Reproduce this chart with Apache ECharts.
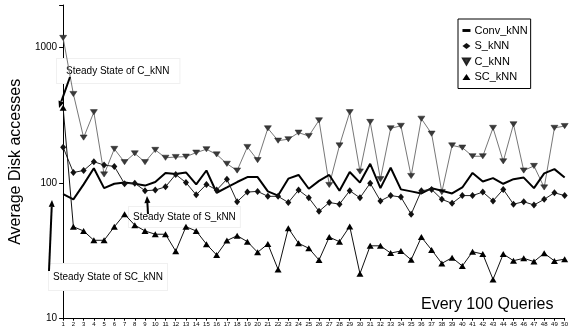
<!DOCTYPE html>
<html>
<head>
<meta charset="utf-8">
<script src="https://cdn.jsdelivr.net/npm/echarts@6/dist/echarts.min.js"></script>
<style>
html,body{margin:0;padding:0;background:#fff;}
#main{width:571px;height:331px;}
</style>
</head>
<body>
<div id="main"></div>
<script>
var categories = ['1','2','3','4','5','6','7','8','9','10','11','12','13','14','15','16','17','18','19','20','21','22','23','24','25','26','27','28','29','30','31','32','33','34','35','36','37','38','39','40','41','42','43','44','45','46','47','48','49','50'];
var convKNN = [83, 76, 98, 129, 92, 99, 101, 99, 96, 102, 119, 117, 120, 98, 124, 85, 93, 102, 111, 111, 87, 81, 108, 115, 91, 104, 115, 88, 121, 101, 139, 92, 130, 90, 87, 84, 92, 88, 84, 93, 119, 103, 109, 99, 107, 110, 92, 118, 127, 110];
var sKNN = [184, 120, 124, 144, 136, 133, 99, 100, 88, 89, 94, 116, 101, 82, 98, 89, 107, 73, 86, 87, 80, 80, 72, 89, 78, 62, 72, 70, 88, 78, 100, 74, 81, 79, 59, 88, 90, 76, 71, 81, 81, 86, 74, 90, 70, 73, 69, 76, 85, 81];
var cKNN = [1180, 455, 217, 334, 116, 179, 143, 166, 143, 176, 154, 156, 157, 168, 178, 163, 139, 124, 185, 148, 254, 206, 211, 236, 223, 291, 97, 190, 334, 122, 283, 107, 254, 265, 113, 299, 232, 86, 190, 183, 158, 158, 256, 145, 272, 124, 134, 93, 256, 264];
var scKNN = [360, 47.7, 44.4, 37.9, 37.9, 47.7, 59, 49, 44.4, 42, 42, 31.5, 47.7, 44.4, 35.5, 29.5, 37.7, 41, 37, 30.9, 35.6, 23.1, 46.5, 36, 33.1, 27.1, 40, 37, 48, 21.5, 34.5, 34.5, 30.5, 31.6, 27.2, 40, 32.2, 25.6, 28.2, 24.5, 31.2, 30, 19.5, 30, 26.8, 27.9, 26.4, 30.4, 26.7, 27.5];
var yTickLabels = ['10', '100', '1000'];
var seriesNames = ['Conv_kNN', 'S_kNN', 'C_kNN', 'SC_kNN'];

var FONT = "'Liberation Sans', Arial, sans-serif";
var DOWN_TRI = 'path://M0,0L10,0L5,8.66Z';
var DASH = 'path://M0,0L10,0L10,3.6L0,3.6Z';

function arrow(x1, y1, x2, y2) {
  var dx = x2 - x1, dy = y2 - y1;
  var len = Math.sqrt(dx * dx + dy * dy);
  var ux = dx / len, uy = dy / len;
  var hl = 7, hw = 3;
  var bx = x2 - ux * hl, by = y2 - uy * hl;
  return [
    { type: 'line', z: 5, shape: { x1: x1, y1: y1, x2: bx, y2: by }, style: { stroke: '#000', lineWidth: 2 } },
    { type: 'polygon', z: 5, shape: { points: [[x2, y2], [bx - uy * hw, by + ux * hw], [bx + uy * hw, by - ux * hw]] }, style: { fill: '#000' } }
  ];
}

function label(x, y, text, pad) {
  return {
    type: 'text', z: 1, x: x, y: y,
    style: {
      text: text, fill: '#000', font: '10px ' + FONT,
      verticalAlign: 'middle', align: 'left',
      backgroundColor: '#fff', borderColor: '#f0f0f0', borderWidth: 1, padding: pad
    }
  };
}

var graphics = [
  label(57, 71, 'Steady State of C_kNN', [7, 10, 7, 9]),
  label(129, 217, 'Steady State of S_kNN', [5, 4, 5, 4]),
  label(49, 277, 'Steady State of SC_kNN', [8, 4, 8, 4]),
  { type: 'text', z: 1, x: 421, y: 305, style: { text: 'Every 100 Queries', fill: '#000', font: '16px ' + FONT, verticalAlign: 'middle', align: 'left' } }
].concat(arrow(70, 77, 59, 108), arrow(148, 214, 147, 196), arrow(49, 271, 52, 200));

var chart = echarts.init(document.getElementById('main'), null, { renderer: 'canvas' });
chart.setOption({
  animation: false,
  backgroundColor: '#fff',
  textStyle: { fontFamily: FONT },
  grid: { left: 43.3, right: 3.4, top: 5, bottom: 12.3, containLabel: false },
  legend: {
    orient: 'vertical', left: 458, top: 19,
    backgroundColor: '#fff', borderColor: '#000', borderWidth: 1,
    padding: [6, 3, 6, 4], itemGap: 4.5, itemWidth: 8, itemHeight: 6,
    textStyle: { fontSize: 11, color: '#000', fontFamily: FONT, padding: [0, 0, 0, -1] },
    data: [
      { name: seriesNames[0], icon: DASH },
      { name: seriesNames[1], icon: 'diamond' },
      { name: seriesNames[2], icon: DOWN_TRI },
      { name: seriesNames[3], icon: 'triangle' }
    ]
  },
  xAxis: {
    type: 'category', data: categories, boundaryGap: false,
    axisLine: { lineStyle: { color: '#000', width: 1 } },
    axisTick: { show: true, length: 2, alignWithLabel: true, interval: 0, lineStyle: { color: '#000' } },
    axisLabel: { interval: 0, fontSize: 6, color: '#000', margin: 3, fontFamily: FONT },
    splitLine: { show: false }
  },
  yAxis: {
    type: 'log', logBase: 10, min: 10, max: 2065,
    name: 'Average Disk accesses', nameLocation: 'middle', nameGap: 16,
    nameTextStyle: { fontSize: 16, color: '#000', fontFamily: FONT },
    axisLine: { show: true, lineStyle: { color: '#000', width: 1 } },
    axisTick: { show: true, length: 4, lineStyle: { color: '#000' } },
    axisLabel: {
      fontSize: 10, color: '#000', margin: 6, fontFamily: FONT,
      formatter: function (v) {
        var s = String(Math.round(v));
        return yTickLabels.indexOf(s) >= 0 ? s : '';
      }
    },
    splitLine: { show: false },
    minorTick: { show: false }
  },
  graphic: graphics,
  series: [
    {
      name: seriesNames[0], type: 'line', data: convKNN, symbol: 'none', symbolKeepAspect: true,
      lineStyle: { color: '#000', width: 2 }, itemStyle: { color: '#000' }, z: 3
    },
    {
      name: seriesNames[1], type: 'line', data: sKNN, symbol: 'diamond', symbolSize: [6, 7], symbolKeepAspect: true,
      lineStyle: { color: '#222', width: 1 }, itemStyle: { color: '#111' }, z: 4
    },
    {
      name: seriesNames[2], type: 'line', data: cKNN, symbol: DOWN_TRI, symbolSize: [7, 6], symbolKeepAspect: true,
      lineStyle: { color: '#777', width: 1 }, itemStyle: { color: '#3a3a3a', borderColor: '#222', borderWidth: 0.5 }, z: 2
    },
    {
      name: seriesNames[3], type: 'line', data: scKNN, symbol: 'triangle', symbolSize: [7, 6], symbolKeepAspect: true,
      lineStyle: { color: '#111', width: 1 }, itemStyle: { color: '#000' }, z: 4
    }
  ]
});
</script>
</body>
</html>
